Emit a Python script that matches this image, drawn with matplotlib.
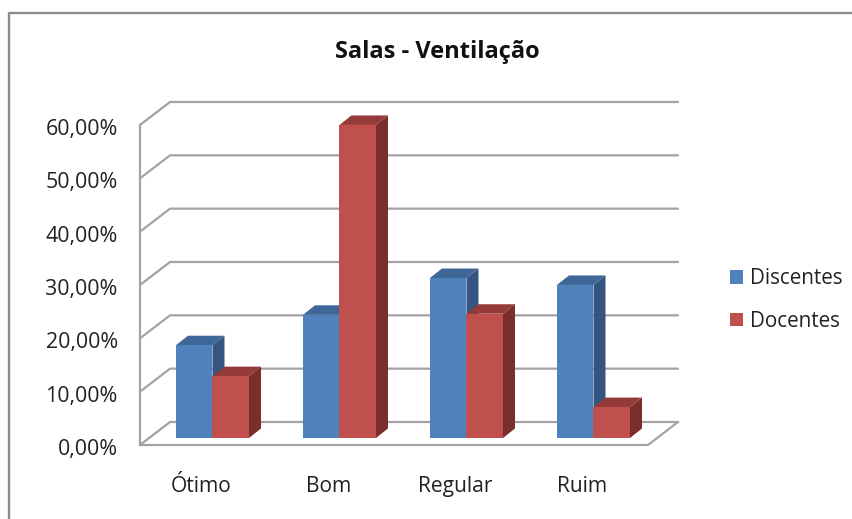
import matplotlib
matplotlib.use("Agg")
import matplotlib.pyplot as plt
from matplotlib.lines import Line2D
from matplotlib.patches import Polygon, Patch
from matplotlib.transforms import ScaledTranslation

plt.rcParams['font.family'] = ['Open Sans', 'DejaVu Sans']

categories = ['Ótimo', 'Bom', 'Regular', 'Ruim']
discentes = [17.4, 23.1, 30.0, 28.7]
docentes = [11.6, 58.7, 23.3, 5.8]
series_names = ['Discentes', 'Docentes']
y_ticks = [0, 10, 20, 30, 40, 50, 60]
y_labels = ['0,00%', '10,00%', '20,00%', '30,00%', '40,00%', '50,00%', '60,00%']
title = 'Salas - Ventilação'

W, H = 853, 519
fig = plt.figure(figsize=(W / 100, H / 100), dpi=100, facecolor='white')
L, R, T, B = 140, 648, 125, 445
ax = fig.add_axes([L / W, 1 - B / H, (R - L) / W, (B - T) / H])
ax.set_xlim(0, 4)
ax.set_ylim(0, 60)
for s in ax.spines.values():
    s.set_visible(False)
ax.patch.set_visible(False)

px = 4 / (R - L)       # data units per pixel, x
py = 60 / (B - T)      # data units per pixel, y
GRID = '#a3a3a3'
ddx, ddy = 30 * px, 23 * py

# walls and gridlines
for v in y_ticks:
    ax.plot([0, ddx, 4 + ddx], [v, v + ddy, v + ddy], color=GRID, lw=1.6, clip_on=False, zorder=1,
            solid_capstyle='round', solid_joinstyle='round')
ax.plot([0, 0], [0, 60], color=GRID, lw=1.6, clip_on=False, zorder=1)
ax.plot([0, 4, 4 + ddx], [0, 0, ddy], color=GRID, lw=1.6, clip_on=False, zorder=1)

# bars
BW = 36.5 * px
X0 = 36 * px
BASE = 7 * py
bdx, bdy = 12 * px, 9.5 * py
colors = [('#4F81BD', '#3F6797', '#34557F'), ('#C0504D', '#943A38', '#7A2F2D')]
for i in range(len(categories)):
    for j, vals in enumerate([discentes, docentes]):
        x = i + X0 + j * BW
        top = vals[i] + BASE
        front, upper, side = colors[j]
        z = 3 + j + i * 3
        ax.add_patch(Polygon([(x + BW, BASE), (x + BW + bdx, BASE + bdy), (x + BW + bdx, top + bdy), (x + BW, top)],
                             fc=side, ec='none', clip_on=False, zorder=z))
        ax.add_patch(Polygon([(x, top), (x + bdx, top + bdy), (x + BW + bdx, top + bdy), (x + BW, top)],
                             fc=upper, ec='none', clip_on=False, zorder=z))
        ax.bar(x, vals[i], width=BW, bottom=BASE, align='edge', color=front, clip_on=False, zorder=z + 0.5)

# axes text
ax.set_yticks(y_ticks, y_labels, fontsize=15.4, color='#222222')
ax.set_xticks([i + 0.483 for i in range(4)], categories, fontsize=15.1, color='#222222')
ax.tick_params(axis='y', length=0, pad=16)
ax.tick_params(axis='x', length=0, pad=22)
shift = ScaledTranslation(0, -2 / 100, fig.dpi_scale_trans)
for lab in ax.get_yticklabels():
    lab.set_transform(lab.get_transform() + shift)

# title
fig.text(437.5 / W, 1 - 52 / H, title, ha='center', va='center', fontsize=17, fontweight='bold', color='#111111')

# legend
handles = [Patch(fc=colors[0][0], ec='none'), Patch(fc=colors[1][0], ec='none')]
fig.legend(handles, series_names, loc='center left', bbox_to_anchor=(730 / W, 1 - 300 / H),
           frameon=False, fontsize=14.9, labelcolor='#222222', handlelength=0.63, handleheight=0.63,
           handletextpad=0.33, labelspacing=1.02, borderpad=0, borderaxespad=0)

# outer chart frame
FR = '#8c8c8c'
fig.add_artist(Line2D([9 / W, 9 / W, 1], [0, 1 - 13 / H, 1 - 13 / H], color=FR, lw=1.7))

fig.savefig('out.png', dpi=100)
